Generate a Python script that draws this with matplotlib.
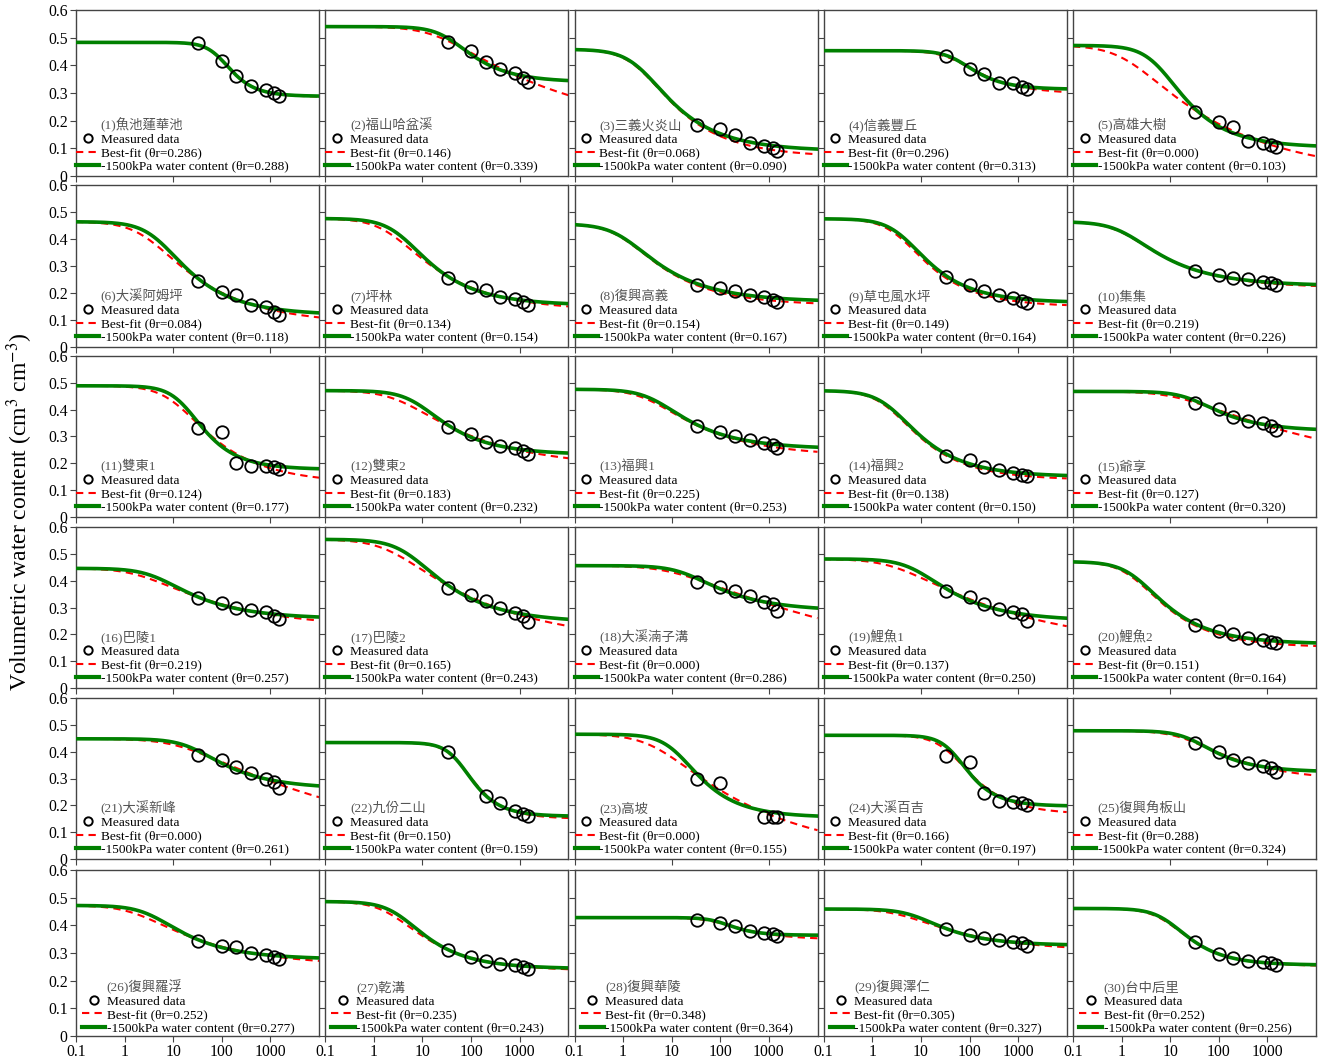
import numpy as np
import matplotlib
matplotlib.use('Agg')
import matplotlib.pyplot as plt
from matplotlib.lines import Line2D

plt.rcParams['font.family'] = ['Liberation Serif', 'Noto Sans CJK TC']
plt.rcParams['mathtext.fontset'] = 'stix'

# suction of measured points (kPa)
suction = np.array([33, 100, 200, 400, 800, 1200, 1500])
nan = np.nan

sites = ['魚池蓮華池', '福山哈盆溪', '三義火炎山', '信義豐丘', '高雄大樹',
         '大溪阿姆坪', '坪林', '復興高義', '草屯風水坪', '集集',
         '雙東1', '雙東2', '福興1', '福興2', '爺享',
         '巴陵1', '巴陵2', '大溪湳子溝', '鯉魚1', '鯉魚2',
         '大溪新峰', '九份二山', '高坡', '大溪百吉', '復興角板山',
         '復興羅浮', '乾溝', '復興華陵', '復興澤仁', '台中后里']

theta_s = [0.483, 0.540, 0.458, 0.453, 0.472,
           0.464, 0.476, 0.456, 0.475, 0.464,
           0.489, 0.471, 0.476, 0.471, 0.468,
           0.446, 0.554, 0.456, 0.481, 0.471,
           0.448, 0.434, 0.465, 0.461, 0.478,
           0.472, 0.486, 0.428, 0.459, 0.461]

# best-fit van Genuchten curve
theta_r_best = [0.286, 0.146, 0.068, 0.296, 0.000,
                0.084, 0.134, 0.154, 0.149, 0.219,
                0.124, 0.183, 0.225, 0.138, 0.127,
                0.219, 0.165, 0.000, 0.137, 0.151,
                0.000, 0.150, 0.000, 0.166, 0.288,
                0.252, 0.235, 0.348, 0.305, 0.252]
alpha_best = [0.0107, 0.049, 0.45, 0.0195, 0.794,
              0.355, 0.457, 1.0, 0.28, 0.9,
              0.0891, 0.295, 0.3, 0.45, 0.0741,
              0.479, 0.468, 0.110, 0.347, 0.55,
              0.0776, 0.017, 0.224, 0.024, 0.049,
              0.575, 0.4365, 0.011, 0.257, 0.120]
n_best = [2.09, 1.16, 1.43, 1.58, 1.21,
          1.33, 1.36, 1.40, 1.50, 1.39,
          1.41, 1.26, 1.33, 1.48, 1.11,
          1.23, 1.21, 1.08, 1.16, 1.47,
          1.10, 1.90, 1.19, 1.64, 1.34,
          1.28, 1.44, 1.58, 1.29, 1.61]

# curve with theta_r from -1500 kPa water content
theta_r_1500 = [0.288, 0.339, 0.090, 0.313, 0.103,
                0.118, 0.154, 0.167, 0.164, 0.226,
                0.177, 0.232, 0.253, 0.150, 0.320,
                0.257, 0.243, 0.286, 0.250, 0.164,
                0.261, 0.159, 0.155, 0.197, 0.324,
                0.277, 0.243, 0.364, 0.327, 0.256]
alpha_1500 = [0.0105, 0.0269, 0.4266, 0.0166, 0.166,
              0.1995, 0.2754, 0.955, 0.2344, 0.8318,
              0.0562, 0.1259, 0.2138, 0.4074, 0.0339,
              0.2138, 0.1905, 0.049, 0.123, 0.4786,
              0.038, 0.0166, 0.0759, 0.0195, 0.0347,
              0.2692, 0.2884, 0.0093, 0.123, 0.1047]
n_1500 = [2.15, 1.63, 1.47, 1.84, 1.56,
          1.49, 1.49, 1.42, 1.55, 1.42,
          1.74, 1.51, 1.45, 1.51, 1.53,
          1.42, 1.42, 1.43, 1.44, 1.51,
          1.47, 2.02, 1.62, 1.97, 1.61,
          1.46, 1.55, 2.09, 1.52, 1.69]

measured = [
    [0.482, 0.416, 0.361, 0.327, 0.311, 0.300, 0.289],
    [0.483, 0.452, 0.412, 0.385, 0.372, 0.355, 0.340],
    [0.185, 0.170, 0.150, 0.120, 0.108, 0.100, 0.092],
    [0.435, 0.388, 0.370, 0.335, 0.335, 0.323, 0.315],
    [0.231, 0.196, 0.176, 0.128, 0.118, 0.111, 0.106],
    [0.245, 0.205, 0.192, 0.155, 0.150, 0.130, 0.120],
    [0.257, 0.223, 0.212, 0.187, 0.178, 0.165, 0.157],
    [0.228, 0.220, 0.207, 0.193, 0.185, 0.175, 0.168],
    [0.258, 0.230, 0.207, 0.191, 0.181, 0.170, 0.163],
    [0.282, 0.266, 0.257, 0.251, 0.240, 0.238, 0.230],
    [0.333, 0.318, 0.203, 0.190, 0.190, 0.185, 0.180],
    [0.337, 0.310, 0.280, 0.265, 0.256, 0.247, 0.235],
    [0.338, 0.315, 0.303, 0.286, 0.274, 0.267, 0.256],
    [0.229, 0.212, 0.188, 0.174, 0.165, 0.156, 0.152],
    [0.425, 0.403, 0.372, 0.358, 0.350, 0.340, 0.325],
    [0.334, 0.315, 0.300, 0.291, 0.284, 0.270, 0.259],
    [0.372, 0.348, 0.323, 0.300, 0.280, 0.270, 0.246],
    [0.395, 0.378, 0.362, 0.341, 0.322, 0.312, 0.288],
    [0.360, 0.340, 0.312, 0.295, 0.283, 0.275, 0.250],
    [0.235, 0.212, 0.200, 0.185, 0.178, 0.170, 0.166],
    [0.386, 0.368, 0.343, 0.322, 0.300, 0.287, 0.263],
    [0.400, nan, 0.233, 0.208, 0.180, 0.168, 0.160],
    [0.298, 0.285, nan, nan, 0.158, 0.158, 0.155],
    [0.385, 0.362, 0.245, 0.218, 0.213, 0.208, 0.200],
    [0.432, 0.400, 0.370, 0.357, 0.347, 0.338, 0.326],
    [0.342, 0.327, 0.320, 0.300, 0.291, 0.285, 0.277],
    [0.310, 0.287, 0.272, 0.262, 0.255, 0.250, 0.243],
    [0.418, 0.409, 0.397, 0.379, 0.371, 0.367, 0.361],
    [0.386, 0.366, 0.355, 0.347, 0.340, 0.335, 0.326],
    [0.338, 0.297, 0.283, 0.271, 0.268, 0.263, 0.255],
]


def vg(h, ts, tr, a, n):
    return tr + (ts - tr) / (1 + (a * h) ** n) ** (1 - 1 / n)


green = '#008000'
fig = plt.figure(figsize=(13.27, 10.61), dpi=100)
W, H = 1327, 1061
lefts = [76 + 249.25 * c for c in range(5)]
tops = [10, 185, 356, 527, 698, 870]
bottoms = [176, 347, 517, 688, 859, 1036]
hh = np.logspace(-1, 4, 400)
for k in range(30):
    r, c = divmod(k, 5)
    hpx = bottoms[r] - tops[r]
    ax = fig.add_axes([lefts[c] / W, 1 - bottoms[r] / H, 243 / W, hpx / H])
    ts = theta_s[k]
    ax.plot(hh, vg(hh, ts, theta_r_best[k], alpha_best[k], n_best[k]),
            color='red', ls=(0, (3.5, 2.5)), lw=1.5, zorder=2)
    ax.plot(hh, vg(hh, ts, theta_r_1500[k], alpha_1500[k], n_1500[k]),
            color=green, lw=2.6, zorder=3)
    ax.plot(suction, measured[k], 'o', mfc='none', mec='black', ms=9, mew=1.3, zorder=4)
    ax.set_xscale('log')
    ax.set_xlim(0.1, 10000)
    ax.set_ylim(0, 0.6)
    ax.set_yticks([0, 0.1, 0.2, 0.3, 0.4, 0.5, 0.6])
    if c == 0:
        ax.set_yticklabels(['0', '0.1', '0.2', '0.3', '0.4', '0.5', '0.6'])
    else:
        ax.set_yticklabels([])
    if r == 5:
        ax.set_xticks([0.1, 1, 10, 100, 1000])
        ax.set_xticklabels(['0.1', '1', '10', '100', '1000'])
    else:
        ax.set_xticks([0.1, 10, 1000])
        ax.set_xticklabels([])
    ax.minorticks_off()
    ax.tick_params(labelsize=11.3, length=4, width=0.8, color='#444444', pad=2)
    for s in ax.spines.values():
        s.set_color('#444444')
        s.set_linewidth(1.0)
    handles = [Line2D([], [], ls='none'),
               Line2D([], [], ls='none', marker='o', mfc='none', mec='black', ms=6, mew=1.4),
               Line2D([], [], color='red', ls=(0, (3.5, 2.5)), lw=1.5),
               Line2D([], [], color=green, lw=3)]
    labels = ['(%d)%s' % (k + 1, sites[k]), 'Measured data',
              'Best-fit (θr=%.3f)' % theta_r_best[k],
              '-1500kPa water content (θr=%.3f)' % theta_r_1500[k]]
    dx = 6 if r == 5 else 0
    dy = 1.5 if r == 5 else 3.3
    leg = ax.legend(handles, labels, loc='lower left',
                    bbox_to_anchor=(dx / 243, dy / hpx),
                    borderaxespad=0, borderpad=0, frameon=False, fontsize=9.6,
                    handlelength=1.75, handletextpad=0.1, labelspacing=0.08)
    leg.get_texts()[0].set_color('#555555')

fig.text(20 / W, 1 - 512 / H, 'Volumetric water content (cm$^3$ cm$^{-3}$)',
         rotation=90, ha='center', va='center', fontsize=17)

fig.savefig('out.png', dpi=100)
